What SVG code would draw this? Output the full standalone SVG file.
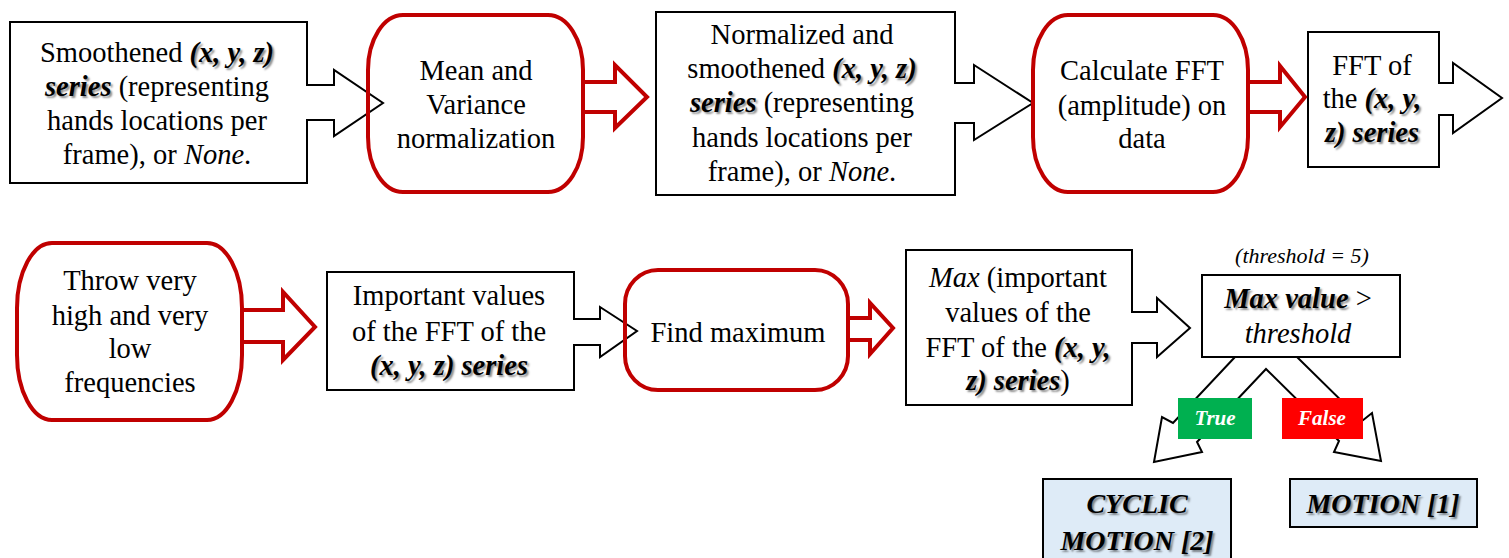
<svg xmlns="http://www.w3.org/2000/svg" width="1509" height="558" viewBox="0 0 1509 558">
<style>
text { font-family: "Liberation Serif", "Times New Roman", serif; font-size: 28.5px; fill: #000; text-anchor: middle; }
.bi { font-weight: bold; font-style: italic; text-shadow: 2px 2px 2px rgba(0,0,0,0.45); }
.it { font-style: italic; }
.box { fill: #fff; stroke: #000; stroke-width: 2; stroke-linejoin: miter; }
.term { fill: none; stroke: #C00000; stroke-width: 4; }
.rarrow { fill: #fff; stroke: #C00000; stroke-width: 4; stroke-linejoin: miter; }
.res { fill: #DEEBF7; stroke: #000; stroke-width: 2; }
.lbl { font-size: 21px; font-weight: bold; font-style: italic; fill: #fff; }
.small { font-size: 22px; font-style: italic; }
.big { font-size: 28px; font-weight: bold; font-style: italic; text-shadow: 2px 2px 2px rgba(0,0,0,0.45); }
</style>
<rect width="1509" height="558" fill="#fff"/>

<g id="node-smoothened">
  <path class="box" d="M10,22 H307 V85 H334 V70 L383,103 L334,136 V120 H307 V183 H10 Z"/>
  <text x="157" y="62">Smoothened <tspan class="bi">(x, y, z)</tspan></text>
  <text x="157" y="96"><tspan class="bi">series</tspan> (representing</text>
  <text x="157" y="130">hands locations per</text>
  <text x="157" y="164">frame), or <tspan class="it">None</tspan>.</text>
</g>

<g id="node-normalization">
  <rect class="term" x="368" y="15" width="215" height="177" rx="35" ry="55"/>
  <text x="476" y="80">Mean and</text>
  <text x="476" y="114">Variance</text>
  <text x="476" y="148">normalization</text>
</g>

<g id="node-normalized">
  <path class="box" d="M656,12 H955 V83 H974 V65 L1033,103 L974,140 V123 H955 V195 H656 Z"/>
  <text x="802" y="44">Normalized and</text>
  <text x="802" y="78">smoothened <tspan class="bi">(x, y, z)</tspan></text>
  <text x="802" y="112"><tspan class="bi">series</tspan> (representing</text>
  <text x="802" y="147">hands locations per</text>
  <text x="802" y="181">frame), or <tspan class="it">None</tspan>.</text>
</g>

<g id="node-fft">
  <rect class="term" x="1033" y="15" width="215" height="177" rx="35" ry="55"/>
  <text x="1142" y="80">Calculate FFT</text>
  <text x="1142" y="115">(amplitude) on</text>
  <text x="1142" y="148">data</text>
</g>

<g id="node-fft-series">
  <path class="box" d="M1308,32 H1439 V83 H1453 V63 L1502,98 L1453,133 V115 H1439 V167 H1308 Z"/>
  <text x="1372" y="75">FFT of</text>
  <text x="1372" y="108">the <tspan class="bi">(x, y,</tspan></text>
  <text x="1372" y="142"><tspan class="bi">z) series</tspan></text>
</g>

<g id="node-throw">
  <rect class="term" x="17" y="243" width="225" height="177" rx="35" ry="65"/>
  <text x="130" y="290">Throw very</text>
  <text x="130" y="325">high and very</text>
  <text x="130" y="358">low</text>
  <text x="130" y="392">frequencies</text>
</g>

<g id="node-important">
  <path class="box" d="M327,272 H574 V319 H600 V307 L637,331 L600,357 V345 H574 V390 H327 Z"/>
  <text x="449" y="305">Important values</text>
  <text x="449" y="341">of the FFT of the</text>
  <text x="449" y="375"><tspan class="bi">(x, y, z) series</tspan></text>
</g>

<g id="node-findmax">
  <rect class="term" x="625" y="270" width="223" height="120" rx="33" ry="34"/>
  <text x="738" y="342">Find maximum</text>
</g>

<g id="node-max">
  <path class="box" d="M906,250 H1132 V312 H1157 V298 L1190,328 L1157,357 V343 H1132 V405 H906 Z"/>
  <text x="1018" y="287"><tspan class="it">Max</tspan> (important</text>
  <text x="1018" y="322">values of the</text>
  <text x="1018" y="357">FFT of the <tspan class="bi">(x, y,</tspan></text>
  <text x="1018" y="390"><tspan class="bi">z) series</tspan>)</text>
</g>

<g id="connectors">
  <polygon class="rarrow" points="583,82 615,82 615,65 647,97 615,128 615,112 583,112"/>
  <polygon class="rarrow" points="1248,82 1280,82 1280,66 1305,97 1280,127 1280,112 1248,112"/>
  <polygon class="rarrow" points="242,310 283,310 283,292 315,327 283,360 283,342 242,342"/>
  <polygon class="rarrow" points="848,318 870,318 870,303 893,328 870,354 870,340 848,340"/>
  <path class="box" d="M1235,357 L1173,423 L1162,417 L1154,462 L1202,452 L1197,442 L1266,369 L1339,441 L1334,452 L1381,461 L1372,413 L1362,421 L1297,357 Z"/>
</g>

<g id="node-decision">
  <text class="small" x="1302" y="263">(threshold = 5)</text>
  <rect class="box" x="1202" y="275" width="198" height="82"/>
  <text x="1298" y="308"><tspan class="bi">Max value</tspan> &gt;</text>
  <text x="1298" y="343" class="it">threshold</text>
</g>

<g id="label-true">
  <rect x="1178" y="398" width="74" height="41" fill="#00B050"/>
  <text class="lbl" x="1215" y="425">True</text>
</g>
<g id="label-false">
  <rect x="1282" y="398" width="81" height="41" fill="#FF0000"/>
  <text class="lbl" x="1322" y="425">False</text>
</g>

<g id="node-cyclic">
  <rect class="res" x="1043" y="479" width="188" height="95"/>
  <text class="big" x="1137" y="513">CYCLIC</text>
  <text class="big" x="1137" y="550">MOTION [2]</text>
</g>

<g id="node-motion">
  <rect class="res" x="1290" y="479" width="187" height="48"/>
  <text class="big" x="1383" y="513">MOTION [1]</text>
</g>
</svg>
